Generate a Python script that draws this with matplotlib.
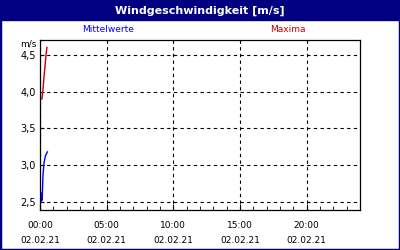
import matplotlib.pyplot as plt
from matplotlib.patches import Rectangle
import numpy as np

title = "Windgeschwindigkeit [m/s]"
unit = "m/s"
x_ticks = [0, 5, 10, 15, 20]
x_labels = ["00:00\n\n02.02.21", "05:00\n\n02.02.21", "10:00\n\n02.02.21",
            "15:00\n\n02.02.21", "20:00\n\n02.02.21"]
y_ticks = [2.5, 3.0, 3.5, 4.0, 4.5]
y_labels = ["2,5", "3,0", "3,5", "4,0", "4,5"]

# hours since 00:00
mean_t = [0.08, 0.1, 0.14, 0.18, 0.22, 0.3, 0.4, 0.55]
mean_v = [2.5, 2.62, 2.52, 2.62, 2.85, 3.03, 3.12, 3.18]
max_t = [0.08, 0.15, 0.22, 0.3, 0.38, 0.45, 0.52]
max_v = [3.9, 3.9, 4.02, 4.2, 4.35, 4.5, 4.6]

navy = "#000080"
fig = plt.figure(figsize=(4, 2.5), dpi=100)
fig.patch.set_facecolor("white")
fig.add_artist(Rectangle((0, 0), 1, 1, transform=fig.transFigure, fill=False,
                         edgecolor=navy, linewidth=2.5))
fig.add_artist(Rectangle((0, 0.92), 1, 0.08, transform=fig.transFigure,
                         facecolor=navy, edgecolor=navy))
fig.text(0.5, 0.958, title, color="white", fontsize=8, fontweight="bold",
         ha="center", va="center")
fig.text(0.27, 0.88, "Mittelwerte", color="#0000ff", fontsize=6.5,
         ha="center", va="center")
fig.text(0.72, 0.88, "Maxima", color="#c00000", fontsize=6.5,
         ha="center", va="center")

ax = fig.add_axes([0.1, 0.16, 0.8, 0.68])
ax.plot(mean_t, mean_v, color="#0000ff", linewidth=1)
ax.plot(max_t, max_v, color="#c00000", linewidth=1)

ax.set_xlim(0, 24)
ax.set_ylim(2.39, 4.7)
ax.set_xticks(x_ticks)
ax.set_xticklabels(x_labels, fontsize=6.5, linespacing=0.8)
ax.set_xticks(np.arange(0, 25, 1), minor=True)
ax.set_yticks(y_ticks)
ax.set_yticklabels(y_labels, fontsize=7)
ax.tick_params(axis="both", which="both", direction="in", length=3, pad=3)
ax.tick_params(axis="x", which="major", length=4, pad=8)
ax.grid(True, which="major", color="black", linestyle=(0, (3, 3)), linewidth=0.8)
for s in ax.spines.values():
    s.set_linewidth(0.9)
ax.text(-0.01, 1.0, unit, transform=ax.transAxes, fontsize=6.5,
        ha="right", va="top")

fig.savefig("out.png", dpi=100)
